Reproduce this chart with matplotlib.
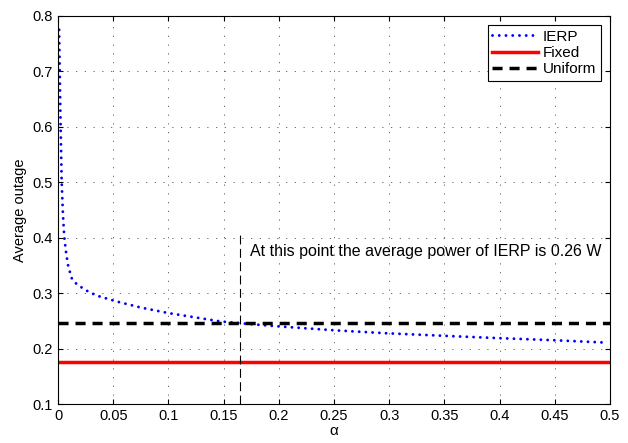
import numpy as np
import matplotlib.pyplot as plt

plt.rcParams['font.family'] = ['Liberation Sans', 'DejaVu Sans']

# IERP curve
alpha = [0.001, 0.002, 0.0033, 0.0045, 0.0057, 0.0075, 0.0093, 0.0124, 0.016,
         0.020, 0.028, 0.036, 0.053, 0.075, 0.100, 0.125, 0.147, 0.175, 0.20,
         0.25, 0.298, 0.35, 0.397, 0.45, 0.494]
outage = [0.775, 0.64, 0.50, 0.44, 0.40, 0.37, 0.348, 0.327, 0.318,
          0.312, 0.302, 0.295, 0.285, 0.274, 0.264, 0.256, 0.249, 0.244, 0.240,
          0.233, 0.2276, 0.223, 0.219, 0.215, 0.211]
fixed_outage = 0.176
uniform_outage = 0.247
alpha_mark = 0.165
note = "At this point the average power of IERP is 0.26 W"

fig = plt.figure(figsize=(6.28, 4.43), dpi=100)
ax = fig.add_axes([0.0924, 0.088, 0.879, 0.876])

ax.plot(alpha, outage, color='blue', linestyle=(0, (0.01, 2.3)), linewidth=2.1,
        dash_capstyle='round', label='IERP')
ax.axhline(fixed_outage, color='red', linewidth=2.5, label='Fixed')
ax.axhline(uniform_outage, color='black', linestyle=(0, (2.9, 2.0)),
           linewidth=2.5, label='Uniform')
ax.plot([alpha_mark, alpha_mark], [0.1, 0.405], color='black',
        linestyle=(0, (8, 4)), linewidth=0.8)
ax.text(0.174, 0.375, note, fontsize=11.5, va='center')

ax.set_xlim(0, 0.5)
ax.set_ylim(0.1, 0.8)
ax.set_xticks(np.arange(0, 0.51, 0.05))
ax.set_xticklabels(['0', '0.05', '0.1', '0.15', '0.2', '0.25', '0.3',
                    '0.35', '0.4', '0.45', '0.5'])
ax.set_yticks(np.arange(0.1, 0.81, 0.1))
ax.set_yticklabels(['0.1', '0.2', '0.3', '0.4', '0.5', '0.6', '0.7', '0.8'])
ax.tick_params(direction='in', top=True, right=True, labelsize=10.5)
ax.grid(True, color='#555555', linestyle=(0, (1.5, 9)), linewidth=0.6)
ax.set_xlabel('α', fontsize=11, labelpad=1)
ax.set_ylabel('Average outage', fontsize=10.5)

leg = ax.legend(loc='upper right', fontsize=11, fancybox=False,
                edgecolor='black', framealpha=1, borderaxespad=0.6,
                handlelength=3.0, handletextpad=0.3, borderpad=0.3,
                labelspacing=0.15)
leg.get_frame().set_linewidth(0.8)

fig.savefig('out.png', dpi=100)
